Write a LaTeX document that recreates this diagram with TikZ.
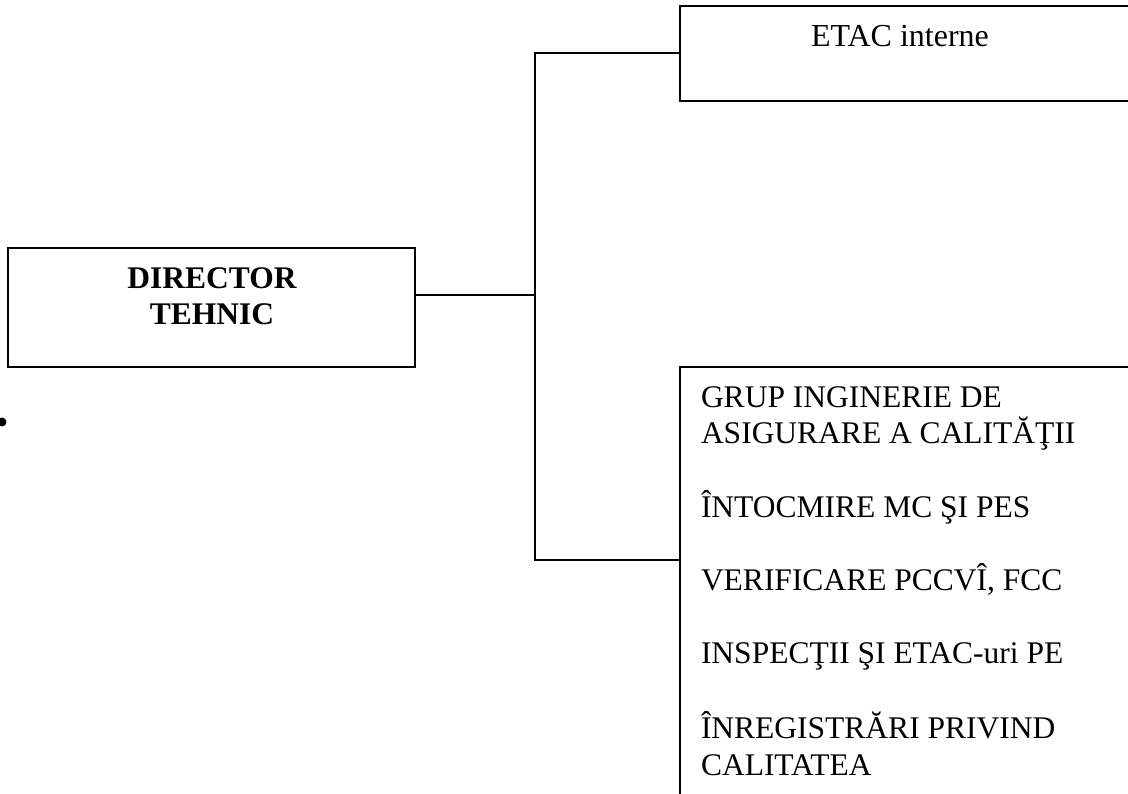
\documentclass[tikz,border=0pt]{standalone}
\usepackage{fontspec}
\setmainfont{Liberation Serif}
\usetikzlibrary{positioning}

\begin{document}
\begin{tikzpicture}[x=1pt, y=-1pt, line width=2pt,
    orgbox/.style={draw, inner sep=0pt},
    orgtext/.style={inner sep=0pt, font=\fontsize{31.5}{36}\selectfont}]
      \clip (0,0) rectangle (1128,794);
      \fill[white] (0,0) rectangle (1128,794);
      % left box
      \node[orgbox, minimum width=407pt, minimum height=119pt] (dir) at (211.5,307.5) {};
      \node[orgtext, anchor=base, font=\bfseries\fontsize{31.5}{36}\selectfont] (dirA) at (212,289) {DIRECTOR};
      \node[orgtext, anchor=base, font=\bfseries\fontsize{31.5}{36}\selectfont] (dirB) at (212,325) {TEHNIC};
      % right boxes
      \node[orgbox, minimum width=480pt, minimum height=95pt] (etac) at (920,53.5) {};
      \node[orgtext, anchor=base, font=\fontsize{32}{36}\selectfont] (etacT) at (900,47) {ETAC interne};
      \node[orgbox, minimum width=480pt, minimum height=453pt] (qa) at (920,593.5) {};
      \foreach \lbl/\yy in {{GRUP INGINERIE DE}/407, {ASIGURARE A CALITĂŢII}/443,
          {ÎNTOCMIRE MC ŞI PES}/517, {VERIFICARE PCCVÎ, FCC}/590,
          {INSPECŢII ŞI ETAC-uri PE}/663, {ÎNREGISTRĂRI PRIVIND}/738, {CALITATEA}/775}
        \node[orgtext, anchor=base west] (qa\yy) at (700,\yy) {\lbl};
      % connectors
      \coordinate (hub) at (535,295);
      \coordinate (qaJoin) at (680,560);
      \draw (dir.east |- hub) -- (hub);
      \draw (etac.west) -| (hub);
      \draw (hub) |- (qaJoin);
      \node[circle, fill, inner sep=0pt, minimum size=9pt] (bullet) at (2,422) {};
\end{tikzpicture}
\end{document}
